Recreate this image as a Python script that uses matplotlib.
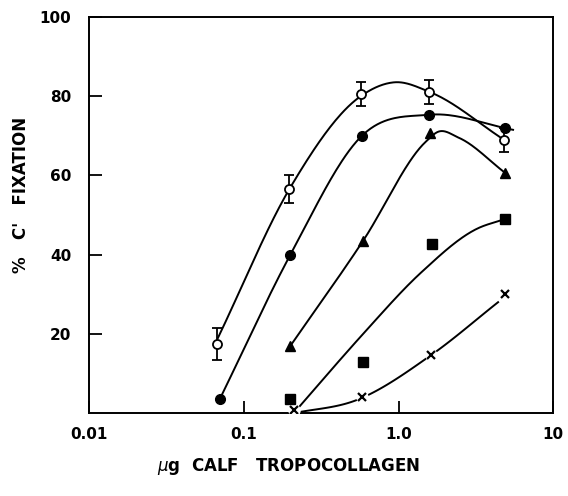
import numpy as np
import matplotlib.pyplot as plt

# measured points
open_x = [0.067, 0.195, 0.57, 1.58, 4.8]
open_y = [17.5, 56.5, 80.5, 81.0, 69.0]
open_err = [4.0, 3.5, 3.0, 3.0, 3.0]

fill_x = [0.07, 0.2, 0.58, 1.58, 4.9]
fill_y = [3.6, 40.0, 70.0, 75.3, 72.0]

tri_x = [0.2, 0.59, 1.6, 4.9]
tri_y = [17.0, 43.5, 70.7, 60.6]

sq_x = [0.2, 0.59, 1.65, 4.9]
sq_y = [3.5, 13.0, 42.7, 49.0]

cross_x = [0.21, 0.58, 1.63, 4.9]
cross_y = [0.8, 4.0, 14.7, 30.0]

# hand-drawn curves
open_cx = [0.068, 0.2, 0.57, 0.95, 1.6, 4.8]
open_cy = [19.0, 57.0, 80.0, 83.5, 81.0, 69.0]
fill_cx = [0.07, 0.2, 0.58, 1.58, 5.5]
fill_cy = [3.6, 40.0, 70.0, 75.3, 71.5]
tri_cx = [0.2, 0.59, 1.5, 1.8, 2.45, 4.9]
tri_cy = [17.0, 43.5, 68.5, 71.0, 69.5, 60.6]
sq_cx = [0.21, 0.35, 0.59, 1.4, 3.2, 4.9]
sq_cy = [0.0, 10.0, 20.0, 35.5, 46.5, 49.0]
cross_cx = [0.21, 0.535, 1.63, 4.4]
cross_cy = [0.0, 3.3, 14.7, 28.0]

xticks = [0.01, 0.1, 1.0, 10]
xticklabels = ['0.01', '0.1', '1.0', '10']
yticks = [20, 40, 60, 80, 100]


def smooth(xs, ys, n=40):
    # cubic hermite through the guide points, in log x
    lx = np.log10(xs)
    ys = np.asarray(ys, float)
    h = np.diff(lx)
    d = np.diff(ys) / h
    m = np.empty(len(lx))
    m[1:-1] = (h[1:] * d[:-1] + h[:-1] * d[1:]) / (h[:-1] + h[1:])
    m[0] = d[0]
    m[-1] = d[-1]
    ox, oy = [], []
    t = np.linspace(0, 1, n)
    for i in range(len(h)):
        h00 = 2 * t ** 3 - 3 * t ** 2 + 1
        h10 = t ** 3 - 2 * t ** 2 + t
        h01 = -2 * t ** 3 + 3 * t ** 2
        h11 = t ** 3 - t ** 2
        ox.extend(lx[i] + t * h[i])
        oy.extend(h00 * ys[i] + h10 * h[i] * m[i] + h01 * ys[i + 1] + h11 * h[i] * m[i + 1])
    return 10 ** np.array(ox), np.array(oy)


fig = plt.figure(figsize=(5.68, 4.96), dpi=100)
ax = fig.add_axes([0.157, 0.167, 0.817, 0.799])

for cx, cy in [(open_cx, open_cy), (fill_cx, fill_cy), (tri_cx, tri_cy),
               (sq_cx, sq_cy), (cross_cx, cross_cy)]:
    sx, sy = smooth(cx, cy)
    ax.plot(sx, sy, color='black', lw=1.4, zorder=2)

ax.errorbar(open_x, open_y, yerr=open_err, fmt='o', color='black', mfc='white',
            mec='black', ms=6.5, mew=1.3, capsize=3.5, elinewidth=1.3, capthick=1.3, zorder=4)
ax.plot(fill_x, fill_y, 'o', color='black', ms=7, zorder=4)
ax.plot(tri_x, tri_y, '^', color='black', ms=7.5, zorder=4)
ax.plot(sq_x, sq_y, 's', color='black', ms=6.5, zorder=4)
ax.plot(cross_x, cross_y, 'o', color='white', ms=8, zorder=3)
ax.plot(cross_x, cross_y, 'x', color='black', ms=6, mew=1.6, zorder=4)

ax.set_xscale('log')
ax.set_xlim(0.01, 10)
ax.set_ylim(0, 100)
ax.set_xticks(xticks)
ax.set_xticklabels(xticklabels)
ax.xaxis.set_minor_locator(plt.NullLocator())
ax.set_yticks(yticks)
ax.tick_params(direction='in', length=9, width=1.3, labelsize=11, pad=13)
ax.tick_params(axis='x', pad=10)
for lab in ax.get_xticklabels() + ax.get_yticklabels():
    lab.set_fontweight('bold')
for s in ax.spines.values():
    s.set_linewidth(1.4)

ax.set_xlabel(r'$\mu$g  CALF   TROPOCOLLAGEN', fontsize=12, fontweight='bold')
ax.xaxis.set_label_coords(0.43, -0.108)
ax.set_ylabel("%   C'   FIXATION", fontsize=12, fontweight='bold')
ax.yaxis.set_label_coords(-0.127, 0.55)

fig.savefig('out.png', dpi=100)
